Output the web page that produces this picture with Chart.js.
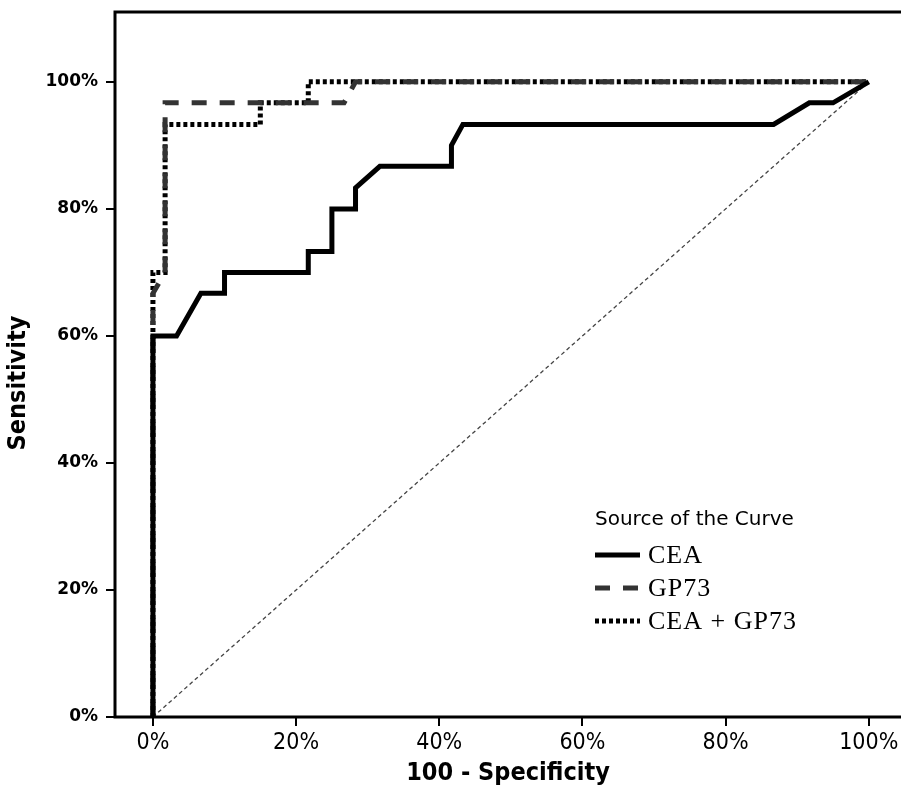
<!DOCTYPE html>
<html>
<head>
<meta charset="utf-8">
<script src="https://cdn.jsdelivr.net/npm/chart.js@4.4.1/dist/chart.umd.min.js"></script>
<style>
  html, body { margin: 0; padding: 0; background: #fff; }
  #wrap { width: 901px; height: 788px; }
</style>
</head>
<body>
<div id="wrap"><canvas id="roc-chart" width="901" height="788"></canvas></div>
<script>
// ROC curve points (100 - specificity, sensitivity)
const ceaX = [0, 0, 3.3, 6.7, 10, 10, 21.7, 21.7, 25, 25, 28.3, 28.3, 31.7, 41.7, 41.7, 43.3, 86.7, 91.7, 95, 100];
const ceaY = [0, 60, 60, 66.7, 66.7, 70, 70, 73.3, 73.3, 80, 80, 83.3, 86.7, 86.7, 90, 93.3, 93.3, 96.7, 96.7, 100];

const gp73X = [0, 0, 1.7, 1.7, 26.7, 28.3, 100];
const gp73Y = [0, 66.7, 70, 96.7, 96.7, 100, 100];

const comboX = [0, 0, 1.7, 1.7, 15, 15, 21.7, 21.7, 100];
const comboY = [0, 70, 70, 93.3, 93.3, 96.7, 96.7, 100, 100];

const refX = [0, 100];
const refY = [0, 100];

const seriesLabels = ['CEA', 'GP73', 'CEA + GP73'];
const legendTitle = 'Source of the Curve';
const yTitle = 'Sensitivity';

const xTickValues = [0, 20, 40, 60, 80, 100];
const xTickLabels = ['0%', '20%', '40%', '60%', '80%', '100%'];
const yTickValues = [0, 20, 40, 60, 80, 100];
const yTickLabels = ['0%', '20%', '40%', '60%', '80%', '100%'];

const toPoints = (xs, ys) => xs.map((x, i) => ({ x: x, y: ys[i] }));

const narrow = "'Liberation Sans Narrow', 'DejaVu Sans Condensed', sans-serif";

// frame round the plot area (left, top, bottom)
const framePlugin = {
    id: 'frame',
    afterDatasetsDraw(chart) {
        const { ctx, chartArea } = chart;
        ctx.save();
        ctx.strokeStyle = '#000';
        ctx.lineWidth = 3;
        ctx.beginPath();
        ctx.moveTo(chartArea.right + 2, chartArea.top);
        ctx.lineTo(chartArea.left, chartArea.top);
        ctx.lineTo(chartArea.left, chartArea.bottom);
        ctx.lineTo(chartArea.right + 2, chartArea.bottom);
        ctx.stroke();
        ctx.restore();
    }
};

// legend inside the plot + y title (placed a bit below centre, like the original)
const legendPlugin = {
    id: 'rocLegend',
    afterDraw(chart) {
        const ctx = chart.ctx;
        const left = 595, top = 520, rowGap = 33;
        ctx.save();
        ctx.fillStyle = '#000';
        ctx.textBaseline = 'middle';
        ctx.font = "20px 'DejaVu Sans', sans-serif";
        ctx.fillText(legendTitle, left, top);

        ctx.font = "26px 'Liberation Serif', serif";
        ctx.letterSpacing = '1px';
        chart.data.datasets.forEach((ds, i) => {
            if (ds.skipLegend) return;
            const y = top + rowGap * (i + 1) + 2;
            ctx.beginPath();
            ctx.strokeStyle = ds.borderColor;
            ctx.lineWidth = ds.borderWidth;
            ctx.setLineDash(ds.borderDash || []);
            ctx.moveTo(left, y);
            ctx.lineTo(left + 45, y);
            ctx.stroke();
            ctx.setLineDash([]);
            ctx.fillText(ds.label, left + 53, y + 1);
        });
        ctx.letterSpacing = '0px';

        ctx.translate(18, 383);
        ctx.rotate(-Math.PI / 2);
        ctx.textAlign = 'center';
        ctx.font = "bold 25px " + narrow;
        ctx.fillText(yTitle, 0, 0);
        ctx.restore();
    }
};

function renderChart() {
    const ctx = document.getElementById('roc-chart').getContext('2d');

    new Chart(ctx, {
        type: 'scatter',
        data: {
            datasets: [
                {
                    label: seriesLabels[0],
                    data: toPoints(ceaX, ceaY),
                    borderColor: '#000',
                    borderWidth: 5,
                    showLine: true,
                    pointRadius: 0
                },
                {
                    label: seriesLabels[1],
                    data: toPoints(gp73X, gp73Y),
                    borderColor: '#333',
                    borderWidth: 5,
                    borderDash: [15, 13],
                    showLine: true,
                    pointRadius: 0
                },
                {
                    label: seriesLabels[2],
                    data: toPoints(comboX, comboY),
                    borderColor: '#000',
                    borderWidth: 5,
                    borderDash: [4, 3],
                    showLine: true,
                    pointRadius: 0
                },
                {
                    label: 'reference',
                    skipLegend: true,
                    data: toPoints(refX, refY),
                    borderColor: '#444',
                    borderWidth: 1.3,
                    borderDash: [4, 3],
                    showLine: true,
                    pointRadius: 0
                }
            ]
        },
        options: {
            responsive: false,
            animation: false,
            layout: { padding: { top: 12, right: 0, left: 0, bottom: 0 } },
            plugins: {
                legend: { display: false },
                tooltip: { enabled: false }
            },
            scales: {
                x: {
                    type: 'linear',
                    min: -5.3,
                    max: 104.5,
                    afterBuildTicks: (scale) => {
                        scale.ticks = xTickValues.map(v => ({ value: v }));
                    },
                    afterFit: (scale) => {
                        scale.height = 71;
                        scale.paddingLeft = 0;
                        scale.paddingRight = 0;
                    },
                    ticks: {
                        color: '#000',
                        padding: 3,
                        maxRotation: 0,
                        font: { family: narrow, size: 23 },
                        callback: (value, index) => xTickLabels[index]
                    },
                    grid: {
                        drawOnChartArea: false,
                        tickLength: 9,
                        color: '#000',
                        lineWidth: 2
                    },
                    border: { display: false },
                    title: {
                        display: true,
                        text: '100 - Specificity',
                        color: '#000',
                        padding: { top: 0, bottom: 0 },
                        font: { family: narrow, size: 25, weight: 'bold' }
                    }
                },
                y: {
                    type: 'linear',
                    min: 0,
                    max: 111,
                    afterBuildTicks: (scale) => {
                        scale.ticks = yTickValues.map(v => ({ value: v }));
                    },
                    afterFit: (scale) => {
                        scale.width = 115;
                        scale.paddingTop = 0;
                        scale.paddingBottom = 0;
                    },
                    ticks: {
                        color: '#000',
                        padding: 8,
                        font: { family: "'DejaVu Sans', sans-serif", size: 17, weight: 'bold' },
                        callback: (value, index) => yTickLabels[index]
                    },
                    grid: {
                        drawOnChartArea: false,
                        tickLength: 9,
                        color: '#000',
                        lineWidth: 2
                    },
                    border: { display: false },
                    title: { display: false }
                }
            }
        },
        plugins: [framePlugin, legendPlugin]
    });
}

document.addEventListener('DOMContentLoaded', renderChart);
</script>
</body>
</html>
